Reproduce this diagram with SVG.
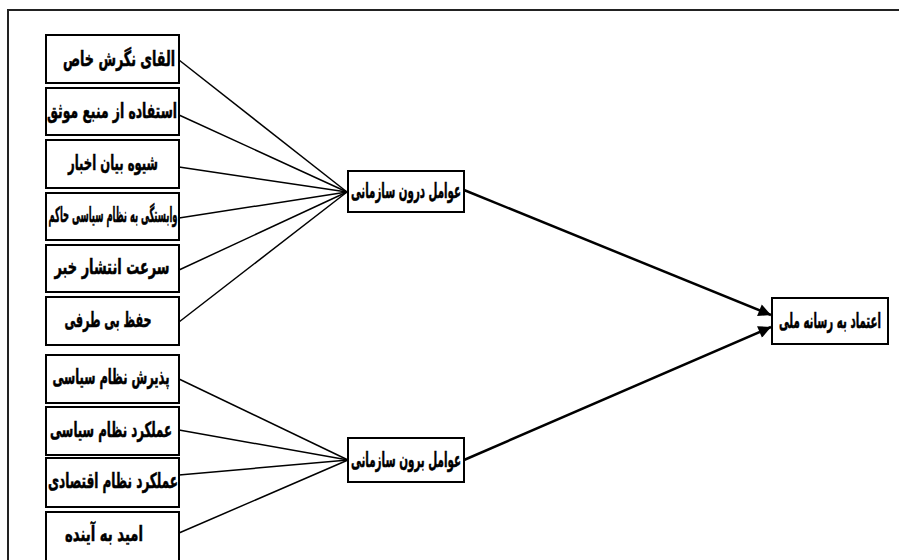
<svg xmlns="http://www.w3.org/2000/svg" width="899" height="560" viewBox="0 0 899 560">
<style>
.box{fill:#fff;stroke:#000;stroke-width:2}
.t{font-family:"DejaVu Sans Condensed","DejaVu Sans",sans-serif;font-weight:bold;font-size:21px;fill:#000;stroke:#000;stroke-width:0.5;text-anchor:middle;direction:rtl}
.c{stroke:#000;stroke-width:1.5;fill:none}
.a{stroke:#000;stroke-width:2.5;fill:none}
</style>
<defs>
<marker id="ah" viewBox="0 0 10 10" refX="10" refY="5" markerWidth="6.5" markerHeight="5" orient="auto" markerUnits="strokeWidth">
<path d="M0,0 L10,5 L0,10 z" fill="#000"/>
</marker>
</defs>
<rect width="899" height="560" fill="#fff"/>
<path d="M8,570 V10 H905" fill="none" stroke="#222" stroke-width="2"/>
<g id="connectors">
<line class="c" x1="179" y1="60" x2="347" y2="192"/>
<line class="c" x1="179" y1="115" x2="347" y2="192"/>
<line class="c" x1="179" y1="167" x2="347" y2="192"/>
<line class="c" x1="179" y1="218" x2="347" y2="192"/>
<line class="c" x1="179" y1="270" x2="347" y2="192"/>
<line class="c" x1="179" y1="322" x2="347" y2="192"/>
<line class="c" x1="179" y1="379" x2="348" y2="460"/>
<line class="c" x1="179" y1="430" x2="348" y2="460"/>
<line class="c" x1="179" y1="475" x2="348" y2="460"/>
<line class="c" x1="179" y1="533" x2="348" y2="460"/>
<line class="a" x1="464" y1="190" x2="771" y2="315" marker-end="url(#ah)"/>
<line class="a" x1="464" y1="460" x2="771" y2="327" marker-end="url(#ah)"/>
</g>
<g id="n1"><rect class="box" x="46" y="35" width="133" height="48"/><text class="t" x="119" y="66" textLength="112" lengthAdjust="spacingAndGlyphs">القای نگرش خاص</text></g>
<g id="n2"><rect class="box" x="46" y="88" width="133" height="47"/><text class="t" x="112" y="118" textLength="130" lengthAdjust="spacingAndGlyphs">استفاده از منبع موثق</text></g>
<g id="n3"><rect class="box" x="46" y="140" width="133" height="48"/><text class="t" x="113" y="170" textLength="90" lengthAdjust="spacingAndGlyphs">شیوه بیان اخبار</text></g>
<g id="n4"><rect class="box" x="46" y="193" width="133" height="47"/><text class="t" x="113" y="222" textLength="129" lengthAdjust="spacingAndGlyphs">وابستگی به نظام سیاسی حاکم</text></g>
<g id="n5"><rect class="box" x="46" y="245" width="133" height="47"/><text class="t" x="112" y="274" textLength="115" lengthAdjust="spacingAndGlyphs">سرعت انتشار خبر</text></g>
<g id="n6"><rect class="box" x="46" y="297" width="133" height="48"/><text class="t" x="108" y="327" textLength="87" lengthAdjust="spacingAndGlyphs">حفظ بی طرفی</text></g>
<g id="n7"><rect class="box" x="46" y="355" width="133" height="48"/><text class="t" x="111" y="384" textLength="117" lengthAdjust="spacingAndGlyphs">پذیرش نظام سیاسی</text></g>
<g id="n8"><rect class="box" x="46" y="407" width="133" height="48"/><text class="t" x="111" y="437" textLength="122" lengthAdjust="spacingAndGlyphs">عملکرد نظام سیاسی</text></g>
<g id="n9"><rect class="box" x="46" y="458" width="133" height="49"/><text class="t" x="113" y="488" textLength="130" lengthAdjust="spacingAndGlyphs">عملکرد نظام اقتصادی</text></g>
<g id="n10"><rect class="box" x="46" y="512" width="133" height="52"/><text class="t" x="104" y="541" textLength="78" lengthAdjust="spacingAndGlyphs">امید به آینده</text></g>
<g id="m1"><rect class="box" x="348" y="171" width="116" height="41"/><text class="t" x="406" y="198" textLength="110" lengthAdjust="spacingAndGlyphs">عوامل درون سازمانی</text></g>
<g id="m2"><rect class="box" x="348" y="438" width="116" height="44"/><text class="t" x="406" y="467" textLength="110" lengthAdjust="spacingAndGlyphs">عوامل برون سازمانی</text></g>
<g id="r"><rect class="box" x="772" y="298" width="116" height="46"/><text class="t" style="font-size:16px;stroke-width:0.4" transform="translate(830,328) scale(1,1.3)" x="0" y="0" textLength="102" lengthAdjust="spacingAndGlyphs">اعتماد به رسانه ملی</text></g>
</svg>
